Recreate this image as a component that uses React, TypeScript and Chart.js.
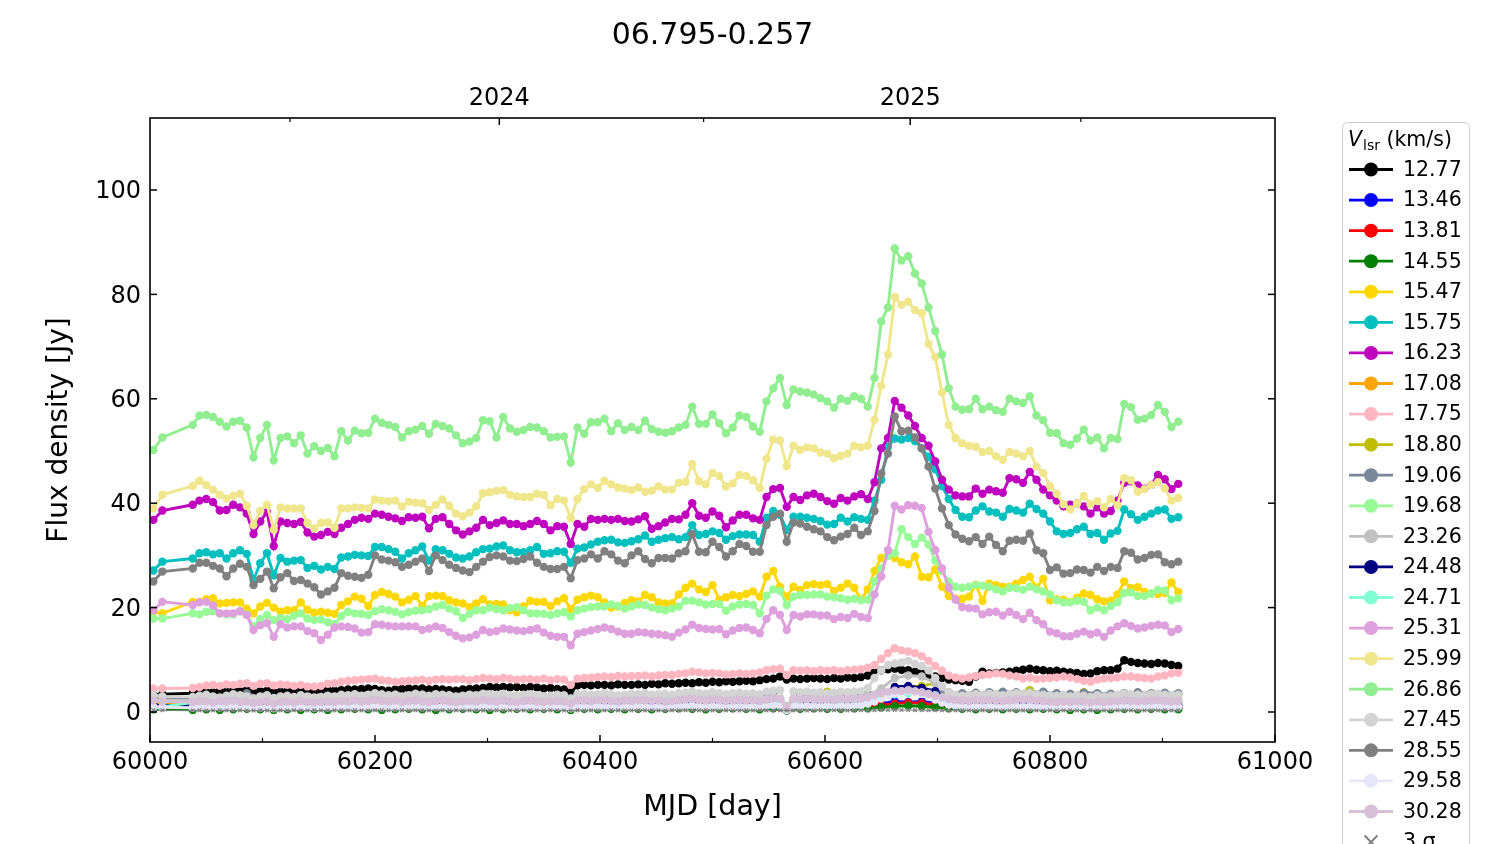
import React, { useEffect, useRef } from 'react';
import { Chart, registerables } from 'chart.js';

Chart.register(...registerables);

// ---------------- DATA ----------------
const chartTitle = '06.795-0.257';
const xAxisTitle = 'MJD [day]';
const yAxisTitle = 'Flux density [Jy]';

const xMajorTicks = [60000, 60200, 60400, 60600, 60800, 61000];
const xMinorTicks = [60100, 60300, 60500, 60700, 60900];
const yTicks = [0, 20, 40, 60, 80, 100];
const yearTickValues = [60124.4, 60310.5, 60492.1, 60675.75, 60827.4];
const yearTickLabels = ['', '2024', '', '2025', ''];

const mjd = [
  60003, 60011,
  60038, 60044, 60050, 60056, 60062, 60068, 60074, 60080, 60086, 60092,
  60098, 60104, 60110, 60116, 60122, 60128, 60134, 60140, 60146, 60152,
  60158, 60164, 60170, 60176, 60182, 60188, 60194, 60200, 60206, 60212,
  60218, 60224, 60230, 60236, 60242, 60248, 60254, 60260, 60266, 60272,
  60278, 60284, 60290, 60296, 60302, 60308, 60314, 60320, 60326, 60332,
  60338, 60344, 60350, 60356, 60362, 60368, 60374, 60380, 60386, 60392,
  60398, 60404, 60410, 60416, 60422, 60428, 60434, 60440, 60446, 60452,
  60458, 60464, 60470, 60476, 60482, 60488, 60494, 60500, 60506, 60512,
  60518, 60524, 60530, 60536, 60542, 60548, 60554, 60560, 60566, 60572,
  60578, 60584, 60590, 60596, 60602, 60608, 60614, 60620, 60626, 60632,
  60638, 60644, 60650, 60656, 60662, 60668, 60674, 60680, 60686, 60692,
  60698, 60704, 60710, 60716, 60722, 60728, 60734, 60740, 60746, 60752,
  60758, 60764, 60770, 60776, 60782, 60788, 60794, 60800, 60806, 60812,
  60818, 60824, 60830, 60836, 60842, 60848, 60854, 60860, 60866, 60872,
  60878, 60884, 60890, 60896, 60902, 60908, 60914,
];

const mjdCoarse = [
  60003, 60038, 60050, 60062, 60074, 60086, 60098, 60110, 60122, 60134,
  60146, 60158, 60170, 60182, 60194, 60206, 60218, 60230, 60242, 60254,
  60266, 60278, 60290, 60302, 60314, 60326, 60338, 60350, 60362, 60374,
  60386, 60398, 60410, 60422, 60434, 60446, 60458, 60470, 60482, 60494,
  60506, 60518, 60530, 60542, 60554, 60566, 60578, 60590, 60602, 60614,
  60626, 60638, 60650, 60662, 60674, 60686, 60698, 60710, 60722, 60734,
  60746, 60758, 60770, 60782, 60794, 60806, 60818, 60830, 60842, 60854,
  60866, 60878, 60890, 60902, 60914,
];

const flux1277 = [
  3.3, 3.4, 3.6, 3.7, 3.9, 3.8, 4.0, 3.9, 4.1, 4.0,
  4.2, 3.7, 4.0, 4.1, 3.8, 3.9, 4.0, 3.9, 4.0, 4.1,
  4.0, 4.1, 4.2, 4.1, 4.2, 4.3, 4.3, 4.4, 4.5, 4.4,
  4.2, 4.1, 4.3, 4.4, 4.5, 4.4, 4.5, 4.3, 4.4, 4.3,
  4.2, 4.1, 4.3, 4.4, 4.5, 4.6, 4.8, 4.7, 4.8, 4.7,
  4.8, 4.6, 4.8, 4.7, 4.5, 4.6, 4.4, 4.3, 3.8, 5.1,
  5.2, 5.1, 5.2, 5.2, 5.1, 5.3, 5.2, 5.2, 5.3, 5.2,
  5.4, 5.3, 5.5, 5.4, 5.5, 5.6, 5.5, 5.7, 5.6, 5.8,
  5.7, 5.9, 5.8, 5.9, 6.0, 5.9, 6.1, 6.3, 6.4, 6.8,
  6.2, 6.4, 6.3, 6.4, 6.5, 6.4, 6.3, 6.5, 6.4, 6.6,
  6.5, 6.7, 7.0, 7.6, 8.0, 8.2, 8.3, 8.1, 8.0, 7.7,
  7.5, 7.1, 6.8, 6.5, 6.2, 6.1, 6.0, 5.8, 6.8, 7.7,
  7.4, 7.5, 7.6, 7.7, 7.9, 8.1, 8.3, 8.1, 8.0, 7.8,
  7.9, 7.7, 7.6, 7.5, 7.3, 7.4, 7.8, 8.0, 8.0, 8.3,
  9.9, 9.6, 9.4, 9.3, 9.2, 9.4, 9.3, 9.0, 8.8,
];

const flux1346 = [
  1.0, 0.9, 0.8, 0.9, 1.0, 0.8, 0.9, 0.8, 0.9, 1.0,
  0.9, 0.8, 0.9, 1.0, 0.9, 1.0, 0.9, 0.8, 1.0, 0.9,
  0.9, 1.0, 0.9, 1.0, 1.1, 0.9, 1.0, 0.9, 1.0, 0.8,
  1.0, 1.1, 1.0, 0.9, 1.0, 1.1, 1.0, 1.1, 1.2, 1.0,
  1.1, 1.0, 1.1, 1.0, 1.2, 0.5, 1.1, 1.2, 1.1, 1.0,
  1.2, 1.3, 1.6, 2.0, 1.9, 2.0, 1.7, 1.3, 1.0, 1.1,
  1.0, 1.1, 1.0, 0.9, 1.0, 0.9, 1.0, 0.9, 1.0, 0.9,
  1.0, 1.1, 1.0, 0.9, 1.0,
];

const flux1381 = [
  0.7, 0.6, 0.7, 0.6, 0.7, 0.8, 0.7, 0.6, 0.7, 0.6,
  0.7, 0.6, 0.7, 0.8, 0.7, 0.6, 0.7, 0.8, 0.7, 0.6,
  0.7, 0.8, 0.7, 0.6, 0.7, 0.8, 0.7, 0.8, 0.7, 0.5,
  0.8, 0.7, 0.8, 0.7, 0.8, 0.7, 0.8, 0.9, 0.8, 0.7,
  0.8, 0.9, 0.8, 0.7, 0.9, 0.4, 0.8, 0.9, 0.8, 0.8,
  0.9, 1.0, 1.3, 1.6, 1.8, 1.7, 1.4, 1.0, 0.8, 0.7,
  0.8, 0.7, 0.8, 0.7, 0.8, 0.7, 0.6, 0.7, 0.6, 0.7,
  0.8, 0.7, 0.8, 0.7, 0.7,
];

const flux1455 = [
  0.5, 0.4, 0.5, 0.4, 0.5, 0.6, 0.5, 0.4, 0.5, 0.4,
  0.5, 0.4, 0.5, 0.6, 0.5, 0.4, 0.5, 0.6, 0.5, 0.4,
  0.5, 0.6, 0.5, 0.4, 0.5, 0.6, 0.5, 0.6, 0.5, 0.4,
  0.6, 0.5, 0.6, 0.5, 0.6, 0.5, 0.6, 0.7, 0.6, 0.5,
  0.6, 0.7, 0.6, 0.5, 0.7, 0.3, 0.6, 0.7, 0.6, 0.6,
  0.7, 0.7, 0.9, 1.1, 1.2, 1.1, 0.9, 0.7, 0.6, 0.5,
  0.6, 0.5, 0.6, 0.5, 0.6, 0.5, 0.4, 0.5, 0.4, 0.5,
  0.6, 0.5, 0.6, 0.5, 0.5,
];

const flux1547 = [
  19.2, 18.9, 21.1, 21.1, 21.6, 21.8, 20.8, 20.9, 21.0, 21.0,
  19.8, 18.9, 20.2, 20.9, 20.0, 19.2, 19.5, 19.5, 21.0, 19.6,
  19.0, 19.2, 19.0, 18.8, 20.5, 21.2, 22.1, 21.7, 20.3, 22.4,
  23.0, 22.6, 22.1, 21.0, 21.5, 22.2, 20.3, 22.2, 22.3, 22.2,
  21.4, 21.0, 20.8, 20.1, 20.8, 21.6, 20.6, 20.7, 20.6, 19.5,
  19.1, 20.2, 21.3, 21.1, 21.1, 20.3, 21.2, 21.8, 19.7, 21.5,
  22.0, 22.3, 22.0, 21.0, 20.0, 20.2, 20.9, 21.4, 21.2, 22.4,
  22.0, 21.0, 20.8, 20.8, 22.5, 23.8, 24.6, 23.5, 23.0, 24.3,
  21.5, 22.0, 22.4, 22.2, 22.6, 23.1, 22.1, 25.9, 27.0, 24.0,
  22.1, 24.0, 23.4, 24.3, 24.5, 24.3, 24.5, 23.2, 23.8, 24.6,
  23.8, 21.5, 23.5, 27.0, 29.5, 30.0, 29.5, 28.7, 28.3, 29.8,
  25.9, 25.8, 27.3, 24.0, 22.2, 21.7, 21.7, 22.1, 24.4, 21.3,
  24.6, 24.3, 24.0, 24.0, 24.6, 25.3, 25.9, 23.8, 25.5, 21.4,
  21.6, 21.5, 21.1, 21.9, 22.7, 22.4, 21.6, 21.2, 21.3, 22.5,
  25.0, 23.7, 23.9, 23.0, 22.7, 22.6, 22.8, 24.8, 23.0,
];

const flux1575 = [
  27.1, 28.8, 29.4, 30.4, 30.6, 30.2, 30.4, 29.4, 30.4, 31.0,
  30.3, 25.3, 28.5, 30.4, 26.2, 29.5, 28.8, 29.0, 29.1, 27.6,
  28.0, 27.3, 27.8, 27.4, 29.6, 29.8, 30.1, 30.0, 29.9, 31.6,
  31.6, 31.2, 30.7, 29.4, 30.4, 31.0, 31.7, 29.0, 31.2, 31.0,
  30.3, 29.6, 29.4, 29.8, 30.6, 31.2, 31.3, 31.7, 31.9, 31.0,
  30.6, 30.6, 31.0, 31.6, 30.3, 30.4, 30.8, 30.7, 28.6, 31.3,
  31.5, 32.1, 32.6, 32.9, 33.0, 32.5, 32.4, 32.7, 33.1, 33.8,
  32.6, 33.0, 33.3, 33.5, 33.1, 33.5, 35.8, 33.9, 34.1, 34.6,
  34.3, 33.0, 33.7, 34.0, 34.0, 33.9, 32.6, 37.2, 38.5, 37.8,
  34.9, 37.4, 37.4, 37.2, 37.0, 36.6, 35.9, 36.0, 37.2, 36.5,
  37.3, 37.0, 36.8, 40.5, 44.5, 50.8, 52.4, 52.2, 52.5, 51.9,
  50.5, 48.9, 46.5, 43.3, 40.8, 38.7, 37.4, 37.3, 38.6, 39.4,
  38.4, 38.2, 37.4, 38.9, 38.6, 38.2, 39.9, 38.9, 38.0, 36.5,
  34.6, 34.1, 34.3, 35.0, 35.5, 34.1, 34.3, 33.0, 34.2, 34.7,
  38.8, 37.9, 36.8, 37.4, 38.0, 38.6, 38.8, 37.0, 37.3,
];

const flux1623 = [
  36.8, 38.6, 39.7, 40.5, 40.8, 40.2, 38.6, 38.7, 39.7, 39.2,
  38.0, 34.1, 36.5, 38.3, 31.8, 36.5, 36.2, 36.0, 36.4, 34.4,
  33.6, 33.9, 34.5, 34.1, 35.3, 36.0, 36.8, 37.2, 37.0, 38.0,
  37.8, 37.4, 37.1, 36.6, 37.3, 37.2, 37.4, 35.2, 37.0, 37.3,
  36.0, 34.8, 34.0, 34.6, 35.3, 36.8, 35.8, 36.2, 36.7, 36.0,
  36.0, 35.6, 36.0, 36.6, 36.0, 34.8, 35.6, 35.5, 32.2, 36.0,
  35.5, 37.0, 36.8, 37.0, 36.8, 37.0, 36.6, 36.5, 36.9, 37.5,
  35.1, 35.6, 36.3, 37.0, 36.9, 37.8, 40.0, 37.6, 37.2, 38.4,
  37.6, 35.4, 36.7, 37.8, 37.8, 37.1, 36.8, 41.2, 42.7, 42.9,
  39.3, 41.2, 40.6, 41.5, 41.8, 41.2, 40.4, 39.9, 41.0, 40.5,
  41.3, 41.7, 40.8, 44.0, 50.5, 52.5, 59.6, 58.3, 56.8, 54.8,
  52.5, 51.0, 48.0, 44.5, 42.6, 41.5, 41.3, 41.3, 42.8, 41.8,
  42.6, 42.3, 42.0, 44.8, 44.6, 43.9, 46.0, 44.5, 42.6, 41.5,
  40.5, 39.4, 39.7, 39.9, 39.4, 38.0, 39.2, 38.0, 38.5, 40.5,
  43.9, 44.2, 43.4, 42.8, 43.5, 45.4, 44.6, 42.7, 43.7,
];

const flux1708 = [
  1.8, 1.7, 1.9, 1.8, 1.7, 2.0, 1.8, 1.6, 1.8, 1.7,
  1.8, 1.7, 1.9, 2.0, 1.8, 1.9, 1.8, 2.0, 1.9, 1.8,
  1.9, 2.0, 1.8, 1.9, 2.0, 2.1, 1.9, 2.0, 1.9, 1.6,
  2.0, 2.1, 2.0, 1.9, 2.1, 2.0, 2.1, 2.2, 2.1, 2.0,
  2.1, 2.0, 2.1, 2.0, 2.3, 0.8, 2.2, 2.3, 2.2, 2.1,
  2.2, 2.4, 3.0, 3.8, 4.1, 3.9, 3.2, 2.4, 2.1, 2.0,
  2.0, 2.1, 2.0, 1.9, 2.0, 1.9, 1.8, 1.9, 1.8, 1.9,
  2.0, 1.9, 2.0, 1.9, 1.9,
];

const flux1775 = [
  4.5, 4.5, 4.6, 4.8, 5.1, 5.2, 5.0, 5.3, 5.2, 5.4,
  5.5, 5.0, 5.4, 5.5, 5.1, 5.3, 5.2, 5.0, 5.2, 4.9,
  4.9, 5.0, 5.4, 5.5, 5.8, 6.0, 6.1, 6.2, 6.3, 6.4,
  6.1, 6.0, 5.8, 5.9, 6.0, 6.1, 6.2, 6.0, 6.2, 6.3,
  6.2, 6.3, 6.3, 6.1, 6.3, 6.5, 6.4, 6.3, 6.5, 6.4,
  6.2, 6.3, 6.3, 6.2, 6.4, 6.1, 6.3, 6.2, 5.2, 6.4,
  6.5, 6.6, 6.7, 6.8, 6.7, 6.9, 6.8, 6.9, 6.9, 7.0,
  6.8, 7.0, 7.1, 7.1, 7.3, 7.4, 7.7, 7.6, 7.4, 7.5,
  7.4, 7.2, 7.3, 7.4, 7.3, 7.4, 7.6, 8.0, 8.2, 8.3,
  7.1, 8.0, 7.9, 8.0, 7.8, 8.0, 7.9, 8.0, 7.8, 8.0,
  8.1, 8.2, 8.5, 9.0, 10.2, 11.3, 12.2, 11.8, 11.6, 11.3,
  10.7, 9.8, 8.8, 7.9, 7.0, 6.6, 6.4, 6.6, 6.9, 7.1,
  7.2, 7.4, 7.3, 7.0, 6.8, 6.4, 6.6, 6.3, 6.4, 6.5,
  6.6, 6.8, 6.6, 6.3, 6.0, 5.8, 6.2, 6.4, 6.5, 6.6,
  6.8, 6.8, 6.6, 6.5, 6.4, 6.8, 7.0, 7.4, 7.5,
];

const flux1880 = [
  2.6, 2.5, 2.7, 2.6, 2.5, 2.8, 2.6, 2.5, 2.7, 2.6,
  2.5, 2.6, 2.7, 2.8, 2.6, 2.7, 2.9, 3.0, 2.8, 3.1,
  2.9, 3.0, 2.8, 2.9, 3.0, 3.1, 2.9, 3.0, 2.9, 2.6,
  3.0, 3.1, 3.0, 2.9, 3.1, 3.0, 3.1, 3.2, 3.1, 3.0,
  3.1, 3.0, 2.4, 3.1, 3.4, 1.0, 3.5, 3.4, 3.9, 3.2,
  3.3, 3.4, 3.8, 4.5, 4.8, 5.0, 5.5, 3.8, 3.2, 3.3,
  3.5, 3.4, 3.6, 4.2, 3.5, 3.4, 3.3, 3.8, 3.4, 3.3,
  3.4, 3.3, 3.2, 3.3, 3.3,
];

const flux1906 = [
  2.5, 2.4, 2.6, 2.5, 2.7, 3.6, 2.8, 2.6, 2.7, 2.5,
  2.6, 2.7, 2.8, 2.9, 2.8, 3.1, 3.3, 3.0, 3.3, 3.0,
  2.9, 3.0, 2.9, 3.0, 3.1, 3.0, 3.1, 2.9, 3.0, 2.7,
  3.0, 3.1, 3.0, 3.1, 3.2, 3.1, 3.2, 3.3, 3.2, 3.1,
  3.2, 3.1, 3.3, 3.2, 3.4, 1.0, 3.3, 3.4, 3.3, 3.2,
  3.3, 3.5, 3.9, 4.3, 4.6, 4.4, 4.0, 3.7, 3.6, 3.7,
  3.8, 3.9, 3.8, 3.7, 3.9, 3.6, 3.5, 3.7, 3.6, 3.5,
  3.6, 3.8, 3.6, 3.7, 3.6,
];

const flux1968 = [
  17.9, 17.9, 18.9, 18.7, 19.2, 19.3, 18.9, 18.7, 18.7, 19.3,
  18.7, 16.4, 17.8, 18.6, 17.6, 18.0, 17.8, 18.5, 18.9, 17.9,
  17.6, 17.7, 17.2, 16.8, 18.4, 19.2, 18.9, 18.8, 18.6, 19.3,
  19.7, 19.5, 19.2, 18.7, 19.1, 19.4, 19.5, 19.7, 20.2, 20.5,
  19.8, 19.3, 18.0, 18.8, 19.5, 19.5, 20.0, 19.7, 19.5, 19.9,
  20.1, 19.5, 18.9, 18.9, 18.8, 18.6, 18.9, 19.1, 18.3, 19.5,
  19.8, 20.1, 20.2, 20.2, 20.6, 20.3, 19.8, 20.2, 20.6, 20.5,
  20.0, 19.7, 19.5, 19.8, 20.2, 21.3, 21.3, 21.0, 20.6, 20.7,
  20.7, 19.4, 20.2, 20.6, 20.7, 20.5, 18.9, 22.3, 23.5, 23.2,
  20.5, 22.1, 22.4, 22.4, 22.5, 22.5, 22.1, 22.0, 21.8, 21.5,
  21.7, 21.4, 21.5, 25.0, 27.5, 29.9, 30.4, 35.0, 33.5, 32.2,
  33.4, 32.1, 29.0, 27.0, 25.0, 24.0, 23.8, 24.0, 24.3, 24.2,
  24.0, 23.5, 23.1, 23.8, 23.7, 23.4, 24.0, 23.5, 23.1, 22.5,
  21.4, 21.0, 21.0, 21.3, 21.1, 19.5, 20.0, 19.5, 20.3, 21.0,
  22.8, 22.9, 22.2, 22.2, 22.7, 23.4, 23.3, 21.4, 21.8,
];

const flux2326 = [
  2.3, 2.2, 2.4, 2.3, 2.2, 2.5, 2.3, 2.2, 2.4, 2.3,
  2.4, 2.3, 2.5, 2.4, 2.3, 2.4, 2.5, 2.6, 2.5, 2.4,
  2.5, 2.6, 2.5, 2.6, 2.7, 2.6, 2.5, 2.6, 2.5, 2.2,
  2.6, 2.7, 2.6, 2.7, 2.8, 2.7, 2.8, 2.9, 2.8, 2.7,
  2.8, 2.7, 2.8, 2.7, 3.0, 0.9, 2.9, 3.0, 2.9, 2.8,
  2.9, 3.1, 4.5, 6.5, 7.0, 6.8, 5.5, 3.5, 2.9, 2.8,
  2.9, 2.8, 2.9, 2.8, 2.7, 2.6, 2.5, 2.6, 2.5, 2.6,
  2.7, 2.6, 2.7, 2.6, 2.6,
];

const flux2448 = [
  1.3, 1.2, 1.3, 1.4, 1.3, 1.2, 1.3, 1.4, 1.3, 1.2,
  1.3, 1.4, 1.3, 1.2, 1.3, 1.4, 1.3, 1.5, 1.4, 1.3,
  1.4, 1.3, 1.4, 1.5, 1.4, 1.3, 1.4, 1.5, 1.4, 1.2,
  1.4, 1.5, 1.6, 1.5, 1.4, 1.5, 1.6, 1.5, 1.6, 1.5,
  1.6, 1.5, 1.6, 1.7, 2.0, 0.6, 1.8, 1.7, 1.8, 1.7,
  1.8, 2.0, 3.0, 4.8, 5.0, 4.6, 4.0, 2.2, 1.7, 1.6,
  1.5, 1.6, 1.5, 1.4, 1.5, 1.4, 1.5, 1.4, 1.5, 1.4,
  1.5, 1.4, 1.5, 1.4, 1.4,
];

const flux2471 = [
  0.8, 1.8, 1.9, 2.0, 1.8, 1.9, 2.0, 1.9, 1.8, 2.0,
  1.9, 2.0, 1.9, 2.1, 2.0, 1.9, 2.0, 2.1, 2.0, 2.4,
  2.0, 2.1, 2.0, 2.1, 2.2, 2.0, 2.1, 2.2, 2.1, 1.8,
  2.1, 2.2, 2.3, 2.2, 2.1, 2.2, 2.3, 2.2, 2.3, 2.2,
  2.3, 2.2, 2.3, 2.2, 2.4, 0.7, 2.3, 2.4, 2.3, 2.2,
  2.3, 2.4, 2.8, 3.4, 3.6, 3.5, 3.2, 2.9, 2.7, 2.5,
  2.4, 2.3, 2.4, 2.3, 2.2, 2.3, 2.2, 2.1, 2.2, 2.1,
  2.2, 2.1, 2.2, 2.1, 2.1,
];

const flux2531 = [
  19.5, 21.1, 20.5, 21.0, 21.1, 20.4, 18.9, 18.9, 18.9, 19.3,
  18.6, 15.7, 16.6, 17.0, 14.4, 16.8, 16.2, 16.4, 16.4, 15.5,
  15.1, 13.8, 14.8, 16.2, 16.4, 16.3, 16.0, 15.2, 15.3, 16.8,
  16.7, 16.5, 16.4, 16.4, 16.4, 16.4, 15.7, 16.0, 16.4, 16.1,
  15.3, 14.6, 14.1, 14.3, 14.8, 15.7, 15.3, 15.5, 16.0, 15.8,
  15.6, 15.5, 15.7, 16.0, 15.2, 14.6, 14.4, 14.4, 12.8, 15.0,
  15.3, 15.6, 15.9, 16.2, 15.9, 15.4, 15.0, 15.0, 15.3, 15.2,
  15.0, 14.9, 14.7, 14.4, 15.2, 15.8, 16.7, 16.1, 15.9, 15.8,
  15.9, 14.9, 15.6, 16.1, 16.2, 15.7, 15.1, 17.8, 19.5, 18.6,
  15.7, 18.6, 18.3, 18.7, 18.7, 18.5, 18.5, 17.8, 18.2, 18.0,
  18.8, 18.2, 18.0, 22.5, 26.0, 31.0, 39.5, 38.8, 39.6, 39.5,
  39.1, 34.5, 31.0, 27.5, 23.8, 21.5, 20.1, 19.9, 19.8, 18.7,
  19.1, 19.2, 18.5, 19.2, 18.6, 17.8, 19.0, 17.6, 16.8, 15.4,
  15.1, 14.5, 14.5, 15.0, 15.4, 14.9, 15.2, 14.4, 15.6, 16.4,
  17.0, 16.5, 16.0, 16.2, 16.5, 16.7, 16.6, 15.3, 15.9,
];

const flux2599 = [
  39.0, 41.6, 43.3, 44.3, 43.5, 42.6, 41.6, 40.9, 41.4, 41.8,
  39.5, 35.8, 38.5, 39.7, 34.9, 39.2, 39.0, 39.0, 39.0, 36.2,
  35.2, 36.2, 36.3, 35.3, 39.0, 39.0, 39.2, 39.1, 39.0, 40.7,
  40.5, 40.4, 40.5, 39.4, 40.3, 40.1, 40.0, 38.7, 39.7, 40.7,
  39.5, 38.0, 37.5, 38.2, 39.4, 41.9, 42.1, 42.4, 42.5, 41.6,
  41.3, 41.2, 41.2, 41.8, 41.6, 39.6, 40.8, 40.5, 37.1, 40.8,
  42.7, 43.6, 42.9, 44.3, 43.6, 43.0, 42.8, 42.5, 43.0, 42.2,
  42.4, 43.2, 42.6, 42.6, 43.9, 44.1, 47.5, 44.2, 43.6, 45.8,
  45.2, 43.2, 43.8, 45.4, 45.2, 44.4, 42.9, 48.5, 52.2, 52.0,
  47.1, 51.0, 50.2, 50.7, 50.5, 49.7, 49.5, 48.6, 49.1, 49.5,
  51.0, 50.7, 51.0, 56.0, 62.5, 68.5, 79.5, 78.0, 78.6, 77.0,
  76.4, 70.5, 68.0, 61.2, 55.0, 52.5, 51.5, 51.0, 50.8, 49.8,
  50.0, 49.0, 48.3, 49.8, 49.5, 49.0, 50.0, 47.0, 45.8, 43.3,
  41.8, 39.8, 38.8, 39.9, 41.4, 39.8, 40.4, 39.2, 40.8, 39.6,
  44.8, 44.4, 42.2, 42.7, 43.5, 44.0, 42.8, 40.5, 41.0,
];

const flux2686 = [
  50.2, 52.6, 55.0, 56.8, 56.9, 56.5, 55.6, 54.7, 55.6, 55.8,
  54.5, 48.8, 52.5, 55.0, 48.2, 52.5, 52.8, 51.5, 53.0, 49.5,
  50.9, 50.0, 50.6, 49.0, 53.8, 52.0, 53.9, 53.4, 53.5, 56.2,
  55.4, 55.0, 54.6, 52.6, 53.8, 54.1, 54.8, 53.3, 55.2, 54.8,
  54.3, 53.0, 51.5, 51.8, 52.5, 55.9, 55.7, 52.6, 56.5, 54.3,
  53.7, 54.0, 54.6, 54.5, 53.8, 52.6, 52.7, 52.8, 47.8, 54.5,
  53.3, 55.5, 55.5, 56.2, 53.8, 55.3, 54.0, 54.6, 54.0, 55.8,
  54.2, 53.7, 53.5, 53.8, 54.5, 55.0, 58.5, 55.2, 55.2, 57.0,
  55.3, 53.4, 54.5, 56.8, 56.5, 54.7, 53.7, 59.5, 62.0, 64.0,
  58.8, 61.8, 61.4, 61.2, 60.8, 60.1, 59.5, 58.3, 60.0, 59.6,
  60.5, 60.0, 58.5, 64.0, 74.8, 77.5, 88.8, 86.5, 87.3, 84.0,
  82.1, 77.5, 73.0, 68.5, 62.0, 58.5, 57.9, 58.0, 60.0, 58.0,
  58.5, 57.8, 57.5, 60.0, 59.5, 59.2, 60.5, 56.8, 55.9, 53.5,
  53.4, 51.5, 51.2, 52.4, 54.1, 52.0, 52.6, 50.5, 52.5, 52.3,
  59.0, 58.4, 56.0, 56.2, 56.9, 58.8, 57.5, 54.6, 55.6,
];

const flux2745 = [
  3.2, 3.0, 2.9, 3.1, 3.3, 3.0, 2.8, 3.1, 3.4, 3.2,
  3.0, 2.6, 3.0, 3.2, 2.7, 3.0, 3.1, 2.9, 3.2, 3.0,
  2.8, 2.9, 3.1, 3.0, 3.3, 3.2, 3.4, 3.1, 3.3, 3.6,
  3.4, 3.2, 3.3, 3.0, 3.2, 3.5, 3.3, 3.1, 3.4, 3.3,
  3.2, 3.0, 3.1, 3.3, 3.2, 3.5, 3.4, 3.3, 3.5, 3.2,
  3.1, 3.3, 3.4, 3.2, 3.0, 3.1, 3.3, 3.2, 2.5, 3.4,
  3.5, 3.3, 3.4, 3.6, 3.4, 3.2, 3.3, 3.5, 3.4, 3.6,
  3.3, 3.4, 3.5, 3.3, 3.6, 3.7, 3.9, 3.6, 3.5, 3.8,
  3.6, 3.4, 3.6, 3.7, 3.5, 3.6, 3.4, 3.9, 4.1, 4.2,
  0.6, 4.0, 3.8, 3.9, 3.7, 3.8, 3.6, 3.7, 3.9, 3.8,
  3.9, 4.0, 4.6, 6.5, 8.0, 9.0, 9.3, 9.5, 9.8, 9.2,
  8.8, 8.0, 6.5, 5.0, 3.8, 3.3, 3.1, 3.2, 3.4, 3.3,
  3.5, 3.4, 3.2, 3.4, 3.6, 3.5, 3.7, 3.4, 3.3, 3.2,
  3.1, 3.3, 3.0, 3.2, 3.1, 2.9, 3.2, 3.0, 3.1, 3.3,
  3.5, 3.4, 3.3, 3.2, 3.4, 3.5, 3.3, 3.2, 3.3,
];

const flux2855 = [
  25.0, 26.9, 27.5, 28.6, 28.6, 28.0, 27.5, 26.0, 27.5, 28.4,
  27.8, 24.3, 25.5, 26.9, 23.7, 25.8, 26.6, 25.1, 25.3, 24.6,
  23.9, 22.5, 23.1, 23.8, 26.6, 26.1, 25.9, 25.7, 26.3, 30.0,
  29.2, 29.0, 28.7, 27.8, 28.2, 28.8, 29.4, 27.0, 30.0, 29.1,
  28.2, 27.6, 27.1, 26.8, 27.8, 28.8, 29.7, 30.0, 29.8, 29.0,
  28.9, 29.3, 29.8, 28.6, 27.8, 27.4, 27.4, 27.8, 25.6, 29.1,
  29.4, 30.2, 29.4, 30.8, 30.2, 29.0, 28.5, 30.0, 30.8, 29.3,
  28.5, 29.5, 29.5, 29.4, 30.4, 30.8, 34.1, 30.7, 30.6, 32.6,
  31.6, 29.8, 30.8, 32.2, 31.8, 30.7, 30.7, 35.8, 37.4, 38.0,
  32.6, 36.3, 36.1, 35.5, 35.0, 34.6, 33.5, 32.9, 33.6, 34.1,
  35.3, 33.9, 34.6, 38.5, 45.7, 49.5, 56.6, 53.8, 53.9, 52.6,
  50.5, 47.0, 42.8, 39.0, 35.8, 34.0, 33.2, 32.7, 33.5, 32.2,
  33.6, 32.0, 30.8, 32.8, 33.0, 32.8, 34.2, 31.0, 30.4, 27.2,
  27.7, 26.5, 26.6, 27.3, 27.2, 26.7, 27.8, 27.0, 27.8, 27.6,
  30.8, 30.5, 29.2, 29.5, 30.1, 30.2, 28.7, 28.3, 28.8,
];

const flux2958 = [
  1.0, 0.9, 0.8, 0.9, 1.0, 0.8, 0.9, 0.9, 1.0, 0.8,
  0.9, 0.7, 0.8, 0.9, 0.7, 0.8, 0.9, 0.8, 0.9, 0.8,
  0.8, 0.9, 0.8, 0.9, 1.0, 0.9, 1.0, 0.9, 1.0, 1.1,
  1.0, 0.9, 1.0, 0.9, 1.0, 1.1, 1.0, 0.9, 1.0, 1.0,
  0.9, 0.9, 1.0, 1.0, 0.9, 1.1, 1.0, 0.9, 1.0, 0.9,
  0.9, 1.0, 1.0, 0.9, 0.9, 1.0, 1.0, 0.9, 0.7, 1.0,
  1.0, 1.0, 1.1, 1.0, 1.0, 0.9, 1.0, 1.0, 1.1, 1.0,
  1.0, 1.0, 0.9, 1.0, 1.1, 1.1, 1.2, 1.1, 1.0, 1.1,
  1.1, 1.0, 1.0, 1.1, 1.0, 1.1, 1.0, 1.2, 1.3, 1.2,
  0.4, 1.2, 1.1, 1.2, 1.1, 1.1, 1.2, 1.1, 1.2, 1.1,
  1.2, 1.3, 1.6, 2.0, 2.6, 3.2, 3.6, 3.9, 4.0, 3.8,
  3.5, 3.0, 2.4, 1.8, 1.4, 1.2, 1.1, 1.0, 1.1, 1.0,
  1.1, 1.0, 1.0, 1.1, 1.1, 1.0, 1.1, 1.0, 1.0, 0.9,
  0.9, 1.0, 0.9, 1.0, 0.9, 0.9, 1.0, 0.9, 1.0, 1.0,
  1.1, 1.0, 1.0, 1.0, 1.1, 1.1, 1.0, 0.9, 1.0,
];

const flux3028 = [
  2.2, 2.0, 1.9, 2.1, 2.0, 1.8, 2.1, 2.0, 2.2, 1.9,
  2.0, 1.7, 1.9, 2.0, 1.6, 1.9, 2.0, 1.8, 2.1, 1.9,
  1.8, 1.9, 2.0, 1.9, 2.1, 2.0, 2.2, 2.0, 2.1, 2.3,
  2.1, 2.0, 2.2, 1.9, 2.1, 2.2, 2.0, 1.9, 2.1, 2.2,
  2.0, 1.9, 2.0, 2.1, 2.0, 2.3, 2.1, 2.0, 2.2, 2.0,
  1.9, 2.1, 2.2, 2.0, 1.9, 2.0, 2.1, 2.0, 1.6, 2.2,
  2.2, 2.1, 2.3, 2.2, 2.1, 2.0, 2.2, 2.1, 2.3, 2.2,
  2.1, 2.2, 2.0, 2.1, 2.3, 2.4, 2.5, 2.3, 2.2, 2.4,
  2.3, 2.1, 2.2, 2.3, 2.2, 2.3, 2.1, 2.4, 2.6, 2.5,
  0.7, 2.5, 2.4, 2.5, 2.4, 2.3, 2.4, 2.3, 2.5, 2.4,
  2.5, 2.6, 2.8, 3.2, 3.6, 3.9, 4.1, 4.0, 4.2, 4.0,
  3.8, 3.5, 3.1, 2.8, 2.5, 2.3, 2.2, 2.1, 2.3, 2.2,
  2.3, 2.2, 2.1, 2.2, 2.4, 2.3, 2.4, 2.2, 2.1, 2.0,
  1.9, 2.0, 1.9, 2.1, 2.0, 1.8, 2.0, 1.9, 2.0, 2.1,
  2.2, 2.1, 2.0, 2.1, 2.2, 2.3, 2.1, 2.0, 2.1,
];

const threeSigma = [
  0.34, 0.32, 0.30, 0.31, 0.29, 0.30, 0.32, 0.30, 0.29, 0.31,
  0.30, 0.28, 0.31, 0.30, 0.29, 0.31, 0.30, 0.32, 0.30, 0.29,
  0.31, 0.30, 0.29, 0.31, 0.32, 0.30, 0.31, 0.29, 0.30, 0.32,
  0.31, 0.30, 0.29, 0.31, 0.30, 0.32, 0.31, 0.30, 0.29, 0.31,
  0.30, 0.31, 0.29, 0.30, 0.32, 0.31, 0.30, 0.31, 0.29, 0.30,
  0.31, 0.30, 0.32, 0.29, 0.30, 0.31, 0.30, 0.29, 0.28, 0.31,
  0.30, 0.31, 0.29, 0.30, 0.32, 0.31, 0.30, 0.29, 0.31, 0.30,
  0.31, 0.30, 0.29, 0.31, 0.30, 0.32, 0.31, 0.30, 0.31, 0.29,
  0.30, 0.31, 0.30, 0.29, 0.31, 0.30, 0.32, 0.31, 0.30, 0.31,
  0.28, 0.30, 0.31, 0.29, 0.30, 0.31, 0.30, 0.32, 0.31, 0.30,
  0.31, 0.32, 0.33, 0.35, 0.37, 0.38, 0.39, 0.38, 0.37, 0.36,
  0.35, 0.34, 0.33, 0.32, 0.31, 0.30, 0.31, 0.30, 0.29, 0.31,
  0.30, 0.31, 0.29, 0.30, 0.31, 0.30, 0.32, 0.30, 0.29, 0.31,
  0.30, 0.29, 0.31, 0.30, 0.29, 0.31, 0.30, 0.29, 0.30, 0.31,
  0.32, 0.31, 0.30, 0.29, 0.31, 0.30, 0.31, 0.30, 0.31,
];

const seriesLabels = [
  '12.77', '13.46', '13.81', '14.55', '15.47', '15.75', '16.23', '17.08',
  '17.75', '18.80', '19.06', '19.68', '23.26', '24.48', '24.71', '25.31',
  '25.99', '26.86', '27.45', '28.55', '29.58', '30.28', '3 σ',
];
const seriesValues = [
  flux1277, flux1346, flux1381, flux1455, flux1547, flux1575, flux1623, flux1708,
  flux1775, flux1880, flux1906, flux1968, flux2326, flux2448, flux2471, flux2531,
  flux2599, flux2686, flux2745, flux2855, flux2958, flux3028, threeSigma,
];
const seriesMjd = [
  mjd, mjdCoarse, mjdCoarse, mjdCoarse, mjd, mjd, mjd, mjdCoarse,
  mjd, mjdCoarse, mjdCoarse, mjd, mjdCoarse, mjdCoarse, mjdCoarse, mjd,
  mjd, mjd, mjd, mjd, mjd, mjd, mjd,
];
const seriesColors = [
  '#000000', '#0000ff', '#ff0000', '#008000', '#ffd700', '#00bfbf', '#bf00bf', '#ffa500',
  '#ffb6c1', '#bfbf00', '#778899', '#98fb98', '#c0c0c0', '#000080', '#7fffd4', '#dda0dd',
  '#f0e68c', '#90ee90', '#d3d3d3', '#808080', '#e6e6fa', '#d8bfd8', '#808080',
];

// ---------------- STYLE ----------------
const FONT = '"DejaVu Sans", "Liberation Sans", sans-serif';
const Y_MIN = -5.747;
const Y_MAX = 113.79;

const framePlugin = {
  id: 'frameTicks',
  afterDraw(chart: any) {
    const { ctx, chartArea: a, scales } = chart;
    ctx.save();
    ctx.strokeStyle = '#000';
    const seg = (x1: number, y1: number, x2: number, y2: number, w: number) => {
      ctx.lineWidth = w;
      ctx.beginPath();
      ctx.moveTo(x1, y1);
      ctx.lineTo(x2, y2);
      ctx.stroke();
    };
    xMajorTicks.forEach((v) => {
      const x = scales.x.getPixelForValue(v);
      seg(x, a.bottom, x, a.bottom - 7, 1.5);
    });
    xMinorTicks.forEach((v) => {
      const x = scales.x.getPixelForValue(v);
      seg(x, a.bottom, x, a.bottom - 4, 1.2);
    });
    yTicks.forEach((v) => {
      const y = scales.y.getPixelForValue(v);
      seg(a.left, y, a.left + 7, y, 1.5);
      seg(a.right, y, a.right - 7, y, 1.5);
    });
    yearTickValues.forEach((v, i) => {
      const x = scales.x2.getPixelForValue(v);
      const len = yearTickLabels[i] ? 7 : 4;
      seg(x, a.top, x, a.top + len, yearTickLabels[i] ? 1.5 : 1.2);
    });
    ctx.lineWidth = 1.6;
    ctx.strokeRect(a.left, a.top, a.right - a.left, a.bottom - a.top);

    // title
    ctx.fillStyle = '#000';
    ctx.font = `30px ${FONT}`;
    ctx.textAlign = 'center';
    ctx.textBaseline = 'alphabetic';
    ctx.fillText(chartTitle, (a.left + a.right) / 2, 44);
    ctx.restore();
  },
};

const legendPlugin = {
  id: 'customLegend',
  afterDraw(chart: any) {
    const { ctx } = chart;
    ctx.save();
    const bx = 1342.5, by = 122.5, bw = 127, bh = 780, r = 5;
    ctx.beginPath();
    ctx.moveTo(bx + r, by);
    ctx.lineTo(bx + bw - r, by);
    ctx.arcTo(bx + bw, by, bx + bw, by + r, r);
    ctx.lineTo(bx + bw, by + bh - r);
    ctx.arcTo(bx + bw, by + bh, bx + bw - r, by + bh, r);
    ctx.lineTo(bx + r, by + bh);
    ctx.arcTo(bx, by + bh, bx, by + bh - r, r);
    ctx.lineTo(bx, by + r);
    ctx.arcTo(bx, by, bx + r, by, r);
    ctx.closePath();
    ctx.fillStyle = 'rgba(255,255,255,0.85)';
    ctx.fill();
    ctx.strokeStyle = '#cccccc';
    ctx.lineWidth = 1;
    ctx.stroke();

    // title V_lsr (km/s)
    const fs = 20.5;
    ctx.fillStyle = '#000';
    ctx.textAlign = 'left';
    ctx.textBaseline = 'alphabetic';
    let tx = 1348;
    const ty = 146;
    ctx.font = `italic ${fs}px ${FONT}`;
    ctx.fillText('V', tx, ty);
    tx += ctx.measureText('V').width + 1;
    ctx.font = `14px ${FONT}`;
    ctx.fillText('lsr', tx, ty + 4);
    tx += ctx.measureText('lsr').width;
    ctx.font = `${fs}px ${FONT}`;
    ctx.fillText(' (km/s)', tx, ty);

    const rowStep = (811 - 169) / 21;
    chart.data.datasets.forEach((ds: any, k: number) => {
      const y = 169.5 + k * rowStep;
      const c = ds.borderColor;
      if (ds.label === '3 σ') {
        ctx.strokeStyle = c;
        ctx.lineWidth = 2;
        const s = 6.5;
        ctx.beginPath();
        ctx.moveTo(1371 - s, y - s);
        ctx.lineTo(1371 + s, y + s);
        ctx.moveTo(1371 + s, y - s);
        ctx.lineTo(1371 - s, y + s);
        ctx.stroke();
      } else {
        ctx.strokeStyle = c;
        ctx.lineWidth = 2.8;
        ctx.beginPath();
        ctx.moveTo(1349, y);
        ctx.lineTo(1393, y);
        ctx.stroke();
        ctx.fillStyle = c;
        ctx.beginPath();
        ctx.arc(1371, y, 7, 0, Math.PI * 2);
        ctx.fill();
      }
      ctx.fillStyle = '#000';
      ctx.font = `${fs}px ${FONT}`;
      ctx.textBaseline = 'middle';
      ctx.fillText(ds.label, 1403, y + 1);
    });
    ctx.restore();
  },
};

export default function App() {
  const ref = useRef<HTMLCanvasElement>(null);

  useEffect(() => {
    if (!ref.current) return;
    Chart.defaults.font.family = FONT;
    Chart.defaults.color = '#000';

    const datasets = seriesLabels.map((label, i) => {
      const xs = seriesMjd[i];
      const ys = seriesValues[i];
      const color = seriesColors[i];
      const isSigma = label === '3 σ';
      return {
        label,
        data: xs.map((x, j) => ({ x, y: ys[j] })),
        borderColor: color,
        backgroundColor: color,
        pointBackgroundColor: color,
        pointBorderColor: color,
        pointBorderWidth: isSigma ? 1.2 : 0,
        pointRadius: isSigma ? 2.6 : 4.2,
        pointStyle: isSigma ? 'crossRot' : 'circle',
        borderWidth: isSigma ? 1 : 2.9,
        tension: 0,
        fill: false,
        order: -i,
      };
    });

    const tickFont = { size: 24, family: FONT };

    const chart = new Chart(ref.current, {
      type: 'line',
      data: { datasets } as any,
      options: {
        animation: false,
        responsive: false,
        events: [],
        layout: { padding: 0 },
        plugins: {
          legend: { display: false },
          title: { display: false },
          tooltip: { enabled: false },
        },
        scales: {
          x: {
            type: 'linear',
            position: 'bottom',
            min: 60000,
            max: 61000,
            afterBuildTicks: (s: any) => {
              s.ticks = xMajorTicks.map((v) => ({ value: v }));
            },
            afterFit: (s: any) => {
              s.height = 102;
            },
            grid: { display: false, drawTicks: false },
            border: { display: false },
            ticks: {
              autoSkip: false,
              maxRotation: 0,
              minRotation: 0,
              padding: 6,
              font: tickFont,
              color: '#000',
              callback: (v: any) => String(v),
            },
            title: {
              display: true,
              text: xAxisTitle,
              font: { size: 28.5, family: FONT },
              color: '#000',
              padding: { top: 0, bottom: 19 },
            },
          },
          x2: {
            type: 'linear',
            position: 'top',
            min: 60000,
            max: 61000,
            afterBuildTicks: (s: any) => {
              s.ticks = yearTickValues.map((v) => ({ value: v }));
            },
            afterFit: (s: any) => {
              s.height = 118;
            },
            grid: { display: false, drawTicks: false },
            border: { display: false },
            ticks: {
              autoSkip: false,
              maxRotation: 0,
              minRotation: 0,
              padding: 5,
              font: tickFont,
              color: '#000',
              callback: (_v: any, i: number) => yearTickLabels[i],
            },
          },
          y: {
            type: 'linear',
            position: 'left',
            min: Y_MIN,
            max: Y_MAX,
            afterBuildTicks: (s: any) => {
              s.ticks = yTicks.map((v) => ({ value: v }));
            },
            afterFit: (s: any) => {
              s.width = 150;
            },
            grid: { display: false, drawTicks: false },
            border: { display: false },
            ticks: {
              autoSkip: false,
              padding: 9,
              labelOffset: 2,
              font: tickFont,
              color: '#000',
              callback: (v: any) => String(v),
            },
            title: {
              display: true,
              text: yAxisTitle,
              font: { size: 28, family: FONT },
              color: '#000',
              padding: { top: 43, bottom: 0 },
            },
          },
          y2: {
            type: 'linear',
            position: 'right',
            min: Y_MIN,
            max: Y_MAX,
            afterFit: (s: any) => {
              s.width = 225;
            },
            grid: { display: false, drawTicks: false },
            border: { display: false },
            ticks: { display: false },
          },
        },
      } as any,
      plugins: [framePlugin, legendPlugin],
    });

    return () => chart.destroy();
  }, []);

  return (
    <div
      style={{
        position: 'fixed',
        left: 0,
        top: 0,
        width: 1500,
        height: 844,
        background: '#ffffff',
        overflow: 'hidden',
      }}
    >
      <canvas ref={ref} width={1500} height={844} style={{ display: 'block', width: 1500, height: 844 }} />
    </div>
  );
}
